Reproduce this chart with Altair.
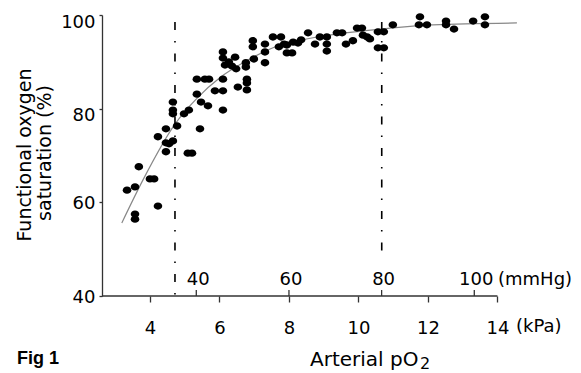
import altair as alt
import pandas as pd

# ---------------- data ----------------
kpa = [3.57, 3.57, 4.23, 3.34, 3.57, 4.00, 4.12, 3.68, 4.23, 4.46,
       4.46, 4.55, 4.66, 4.46, 4.78, 4.66, 4.66, 4.66, 4.98, 5.12,
       5.09, 5.21, 5.44, 5.35, 5.47, 5.67, 5.35, 5.58, 5.70, 5.87,
       6.10, 6.10, 6.10, 6.10, 6.10, 6.16, 6.27, 6.36, 6.45, 6.48,
       6.53, 6.76, 6.76, 6.79, 6.79, 6.79, 6.96, 6.96, 6.99, 7.31,
       7.31, 7.31, 7.54, 7.77, 7.71, 7.86, 7.94, 8.12, 7.94, 8.09,
       8.26, 8.35, 8.55, 8.75, 8.89, 9.09, 9.09, 9.09, 9.38, 9.53,
       9.64, 9.84, 9.96, 10.10, 10.13, 10.25, 10.33, 10.56, 10.73, 10.56,
       10.73, 10.99, 11.77, 11.74, 11.97, 12.52, 12.52, 12.75, 13.30, 13.64,
       13.64]
sat = [57.5, 56.4, 59.2, 62.6, 63.3, 65.0, 65.0, 67.6, 74.0, 70.8,
       72.7, 72.5, 73.1, 75.7, 76.3, 81.4, 79.7, 78.9, 78.9, 79.7,
       70.5, 70.5, 75.7, 83.1, 81.4, 80.6, 86.3, 86.3, 86.3, 83.8,
       83.8, 86.3, 79.7, 92.1, 90.8, 89.3, 90.0, 89.1, 91.0, 88.5,
       84.6, 89.8, 88.9, 86.3, 85.5, 84.0, 94.5, 93.2, 90.6, 93.8,
       92.1, 89.8, 95.3, 95.3, 93.2, 93.8, 93.6, 94.2, 91.9, 91.9,
       94.0, 94.7, 96.2, 93.8, 95.3, 95.3, 93.8, 92.3, 96.2, 96.2,
       93.8, 94.5, 97.2, 97.2, 95.7, 95.3, 94.9, 96.4, 96.4, 93.0,
       93.0, 97.9, 99.6, 97.9, 97.9, 98.7, 97.9, 97.0, 98.7, 99.6,
       97.9]

curve_kpa = [3.19, 3.80, 4.72, 5.35, 6.01, 6.73, 7.54, 8.81, 10.13, 12.14, 14.56]
curve_sat = [55.6, 64.8, 76.7, 82.2, 86.6, 90.0, 93.0, 95.3, 96.6, 97.9, 98.3]

kpa_ticks = [4, 6, 8, 10, 12, 14]
mmhg_ticks = [40, 60, 80, 100]
sat_ticks = [40, 60, 80, 100]

ref_kpa = [4.72, 10.67]
ref_top = [98.5, 98.5]
ref_bottom = [40.0, 48.1]

y_title_lines = ["Functional oxygen", "saturation (%)"]
x_title = "Arterial pO"
x_title_sub = "2"
unit_kpa = "(kPa)"
unit_mmhg = "(mmHg)"
fig_label = "Fig 1"

# ---------------- chart ----------------
FONT = "DejaVu Sans"
W, H = 417, 281
X_DOMAIN = [2.62, 14.62]
Y_DOMAIN = [40, 100]
AX = "#333333"

xs = alt.Scale(domain=X_DOMAIN, nice=False, zero=False)
ys = alt.Scale(domain=Y_DOMAIN, nice=False, zero=False)

ellipse = "M -1 0 A 1 0.85 0 1 1 1 0 A 1 0.85 0 1 1 -1 0 Z"

pts = pd.DataFrame({"kpa": kpa, "sat": sat})
points = alt.Chart(pts).mark_point(
    shape=ellipse, filled=True, color="black", size=74, opacity=1
).encode(
    x=alt.X("kpa:Q", scale=xs, axis=alt.Axis(
        values=kpa_ticks, title=None, domain=False, grid=False,
        tickSize=6, tickColor=AX, tickWidth=1.3, labelPadding=17,
        labelFont=FONT, labelFontSize=18, labelColor="black", labelFlush=False)),
    y=alt.Y("sat:Q", scale=ys, axis=alt.Axis(
        values=sat_ticks, title=None, grid=False, domainColor=AX, domainWidth=1.3,
        tickSize=3, tickColor=AX, tickWidth=1.3, labelPadding=4,
        labelOffset={"condition": {"test": "datum.value >= 80", "value": 7}, "value": 1},
        labelFont=FONT, labelFontSize=18, labelColor="black")),
)

curve = alt.Chart(pd.DataFrame({"kpa": curve_kpa, "sat": curve_sat})).mark_line(
    color="#888888", strokeWidth=1.2, interpolate="monotone"
).encode(x=alt.X("kpa:Q", scale=xs), y=alt.Y("sat:Q", scale=ys))

xaxis_line = alt.Chart(pd.DataFrame({"a": [X_DOMAIN[0]], "b": [max(kpa_ticks)], "y": [Y_DOMAIN[0]]})).mark_rule(
    color=AX, strokeWidth=1.3
).encode(x=alt.X("a:Q", scale=xs), x2="b:Q", y=alt.Y("y:Q", scale=ys))

refs = alt.Chart(pd.DataFrame({"kpa": ref_kpa, "top": ref_top, "bot": ref_bottom})).mark_rule(
    color="black", strokeWidth=1.6, strokeDash=[8, 11, 1.5, 11]
).encode(x=alt.X("kpa:Q", scale=xs), y=alt.Y("top:Q", scale=ys), y2="bot:Q")

mm = alt.Chart(pd.DataFrame({"mmhg": mmhg_ticks})).transform_calculate(
    kpa="datum.mmhg / 7.5", lab="'' + datum.mmhg")
mm_ticks = mm.mark_rule(color=AX, strokeWidth=1.3).encode(
    x=alt.X("kpa:Q", scale=xs), y=alt.value(H), y2=alt.value(H - 6))
mm_labels = mm.mark_text(font=FONT, fontSize=18, color="black", align="center",
                         baseline="middle", dx=2).encode(
    x=alt.X("kpa:Q", scale=xs), y=alt.value(H - 16), text="lab:N")


def label(txt, x, y, size=19, weight="normal", angle=0, align="left", font=FONT):
    return alt.Chart(pd.DataFrame({"t": [txt]})).mark_text(
        font=font, fontSize=size, fontWeight=weight, color="black",
        align=align, baseline="middle", angle=angle
    ).encode(text="t:N", x=alt.value(x), y=alt.value(y))


texts = [
    label(unit_kpa, 414, 312, size=18),
    label(unit_mmhg, 396, 265, size=18),
    label(x_title, 208, 345, size=20),
    label(x_title_sub, 318, 349, size=16),
    label(y_title_lines[0], -77, 140, angle=270, align="center"),
    label(y_title_lines[1], -57, 138, angle=270, align="center"),
    label(fig_label, -85, 344, size=18, weight="bold", font="Liberation Sans"),
]

chart = alt.layer(curve, refs, xaxis_line, mm_ticks, mm_labels, points, *texts).properties(
    width=W, height=H,
    autosize=alt.AutoSizeParams(type="none"),
    padding={"left": 94, "top": 7, "right": 54, "bottom": 77},
    background="white",
).configure_view(stroke=None)

chart.save("out.html", embed_options={"renderer": "svg", "actions": False})
